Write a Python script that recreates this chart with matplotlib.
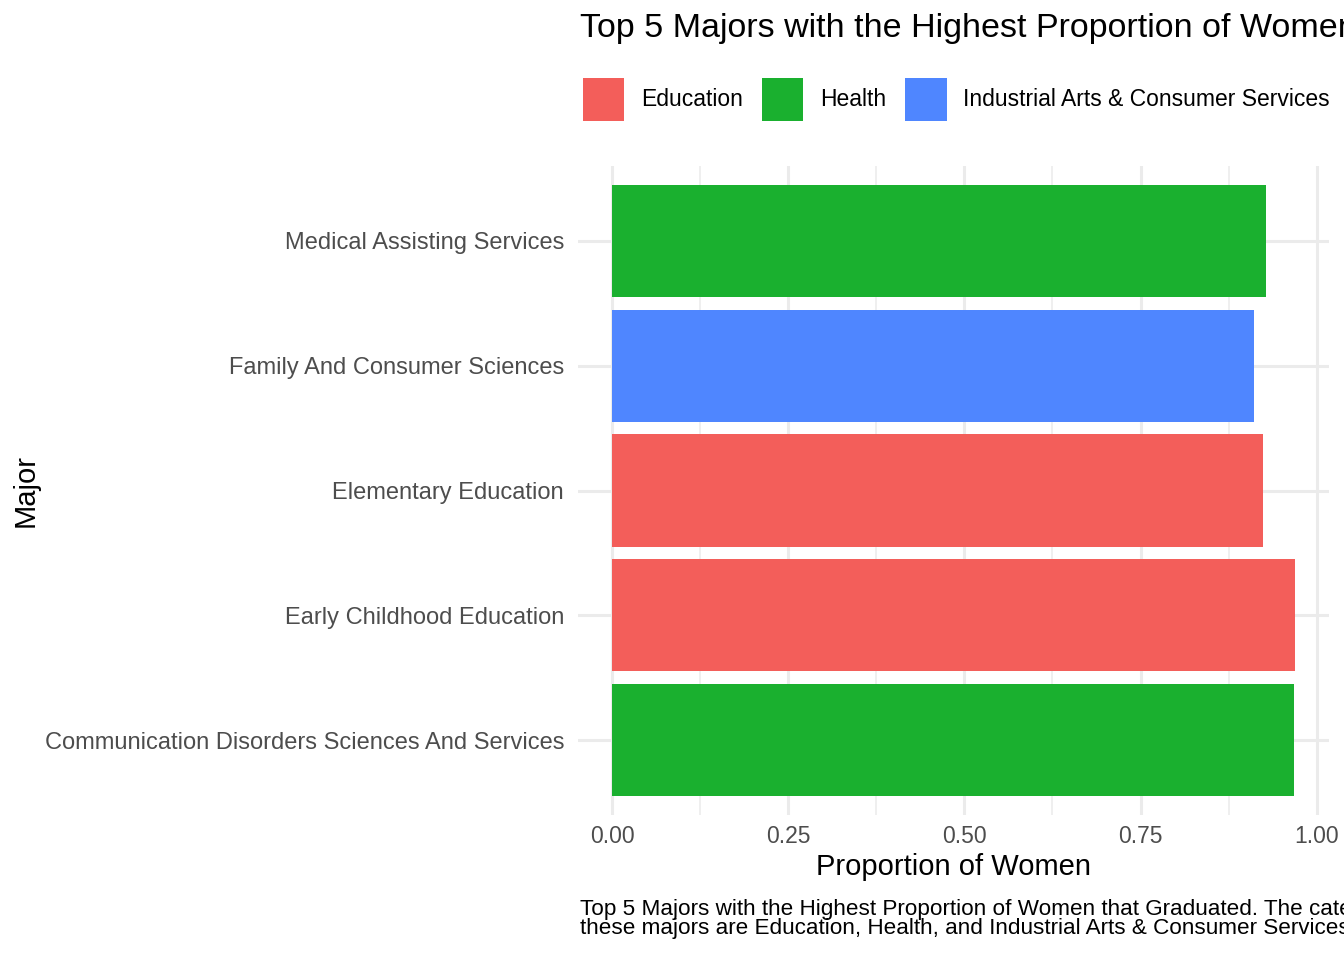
import matplotlib.pyplot as plt
from matplotlib.patches import Patch
from matplotlib.ticker import MultipleLocator

plt.rcParams['font.family'] = ['Liberation Sans', 'DejaVu Sans']

# data (bottom to top)
majors = [
    'Communication Disorders Sciences And Services',
    'Early Childhood Education',
    'Elementary Education',
    'Family And Consumer Sciences',
    'Medical Assisting Services',
]
share_women = [0.968, 0.969, 0.924, 0.911, 0.928]
categories = ['Health', 'Education', 'Education',
              'Industrial Arts & Consumer Services', 'Health']
legend_order = ['Education', 'Health', 'Industrial Arts & Consumer Services']
palette = {'Education': '#F35E5A', 'Health': '#1AB02F',
           'Industrial Arts & Consumer Services': '#4F86FF'}

W, H = 1344, 960
fig = plt.figure(figsize=(W / 100, H / 100), dpi=100)
ax = fig.add_axes([578 / W, 1 - 815 / H, (1329 - 578) / W, (815 - 166) / H])

ypos = list(range(len(majors)))
ax.barh(ypos, share_women, height=0.9,
        color=[palette[c] for c in categories], zorder=2)

xmax = max(share_women)
ax.set_xlim(-0.05 * xmax, 1.05 * xmax)
ax.set_ylim(-0.6, len(majors) - 0.4)
ax.set_yticks(ypos)
ax.set_yticklabels(majors)
ax.xaxis.set_major_locator(MultipleLocator(0.25))
ax.xaxis.set_minor_locator(MultipleLocator(0.125))
ax.xaxis.set_major_formatter(lambda v, p: f'{v:.2f}')

ax.grid(True, which='major', color='#EBEBEB', linewidth=2.2, zorder=0)
ax.grid(True, which='minor', axis='x', color='#EBEBEB', linewidth=1.1, zorder=0)
for s in ax.spines.values():
    s.set_visible(False)
ax.tick_params(which='both', length=0)
ax.tick_params(axis='y', pad=10, labelsize=17, labelcolor='#4D4D4D')
ax.tick_params(axis='x', pad=7, labelsize=16.5, labelcolor='#4D4D4D')

ax.set_xlabel('Proportion of Women', fontsize=21, labelpad=4)
ax.set_ylabel('Major', fontsize=21)
ax.yaxis.set_label_coords((40 - 578) / (1329 - 578), 0.5)

fig.text(580 / W, 1 - 29 / H, 'Top 5 Majors with the Highest Proportion of Women that Graduated',
         fontsize=24.5, ha='left', va='center')

handles = [Patch(facecolor=palette[c], edgecolor='none', label=c) for c in legend_order]
fig.legend(handles=handles, loc='upper left', bbox_to_anchor=(583 / W, 1 - 78 / H),
           ncol=3, frameon=False, fontsize=16.5, handlelength=1.8, handleheight=2.5,
           handletextpad=0.72, columnspacing=0.85, borderpad=0, borderaxespad=0)

fig.text(580 / W, 1 - 919 / H,
         'Top 5 Majors with the Highest Proportion of Women that Graduated. The categories of\n'
         'these majors are Education, Health, and Industrial Arts & Consumer Services.',
         fontsize=16.2, ha='left', va='center', linespacing=0.92)

fig.savefig('out.png', dpi=100)
